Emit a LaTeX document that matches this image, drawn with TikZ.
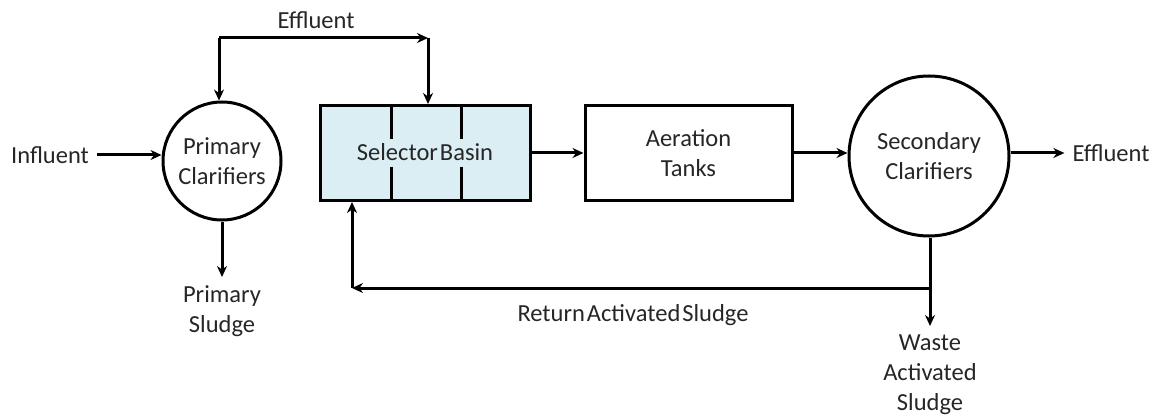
\documentclass[tikz,border=0pt]{standalone}
\usepackage{fontspec}
\setmainfont{Carlito}
\usetikzlibrary{arrows.meta}
\definecolor{basin}{HTML}{DAEEF3}
\definecolor{txt}{HTML}{262626}
\begin{document}
\begin{tikzpicture}[x=1pt,y=-1pt,
  every node/.style={font=\fontsize{24.5}{30}\selectfont, text=txt, inner sep=0pt},
  flow/.style={line width=3pt, -{Stealth[length=11pt,width=10pt]}},
  pipe/.style={line width=3pt},
  clarifier/.style={circle, draw, line width=3pt, align=center},
  tank/.style={draw, line width=3pt, minimum width=207pt, minimum height=95pt, align=center},
  label/.style={align=center}]
\useasboundingbox (0,0) rectangle (1157,417);

% process units
\node[clarifier, minimum size=118pt] (pc) at (222,161) {Primary\\Clarifiers};
\node[tank, fill=basin, minimum width=210pt] (sb) at (425.5,153) {};
\node[label] (sbt) at (425,152) {Selector\kern2pt Basin};
\node[tank] (at) at (688.5,153) {Aeration\\Tanks};
\node[clarifier, minimum size=160pt] (sc) at (929,156) {Secondary\\Clarifiers};

% baffles inside the selector basin
\draw[pipe] (391,105) -- (391,139) (391,167) -- (391,200);
\draw[pipe] (461,105) -- (461,139) (461,167) -- (461,200);

% labels
\node[label] (inf) at (50,155) {Influent};
\node[label] (eff1) at (316,20) {Effluent};
\node[label] (eff2) at (1111,153) {Effluent};
\node[label] (ps) at (222,311) {Primary\\Sludge};
\node[label] (ras) at (633,315) {Return\kern2pt Activated\kern2pt Sludge};
\node[label] (was) at (930,375) {Waste\\Activated\\Sludge};

% main flow
\draw[flow] ([xshift=8pt]inf.east) coordinate (i0) -- (pc.west |- i0);
\draw[flow] (sb.east) -- (at.west);
\draw[flow] (at.east) -- (sc.west |- at.east);
\draw[flow] (sc.east |- eff2) -- ([xshift=-8pt]eff2.west);

% primary effluent loop over the top
\coordinate (tl) at (219,38);
\coordinate (tr) at (428,38);
\draw[flow] (tl) -- (tr);
\draw[flow] (tl) -- (pc.north -| tl);
\draw[flow] (tr) -- (sb.north -| tr);

% primary sludge
\coordinate (pse) at (222,277);
\draw[flow] (pc.south) -- (pse);

% return and waste activated sludge
\coordinate (rj) at (930,288);
\coordinate (rl) at (352,288);
\coordinate (wse) at (930,326);
\draw[pipe] (sc.south -| rj) -- (rj);
\draw[flow] (rj) -- (rl);
\draw[flow] (rl) -- (sb.south -| rl);
\draw[flow] (rj) -- (wse);
\end{tikzpicture}
\end{document}
